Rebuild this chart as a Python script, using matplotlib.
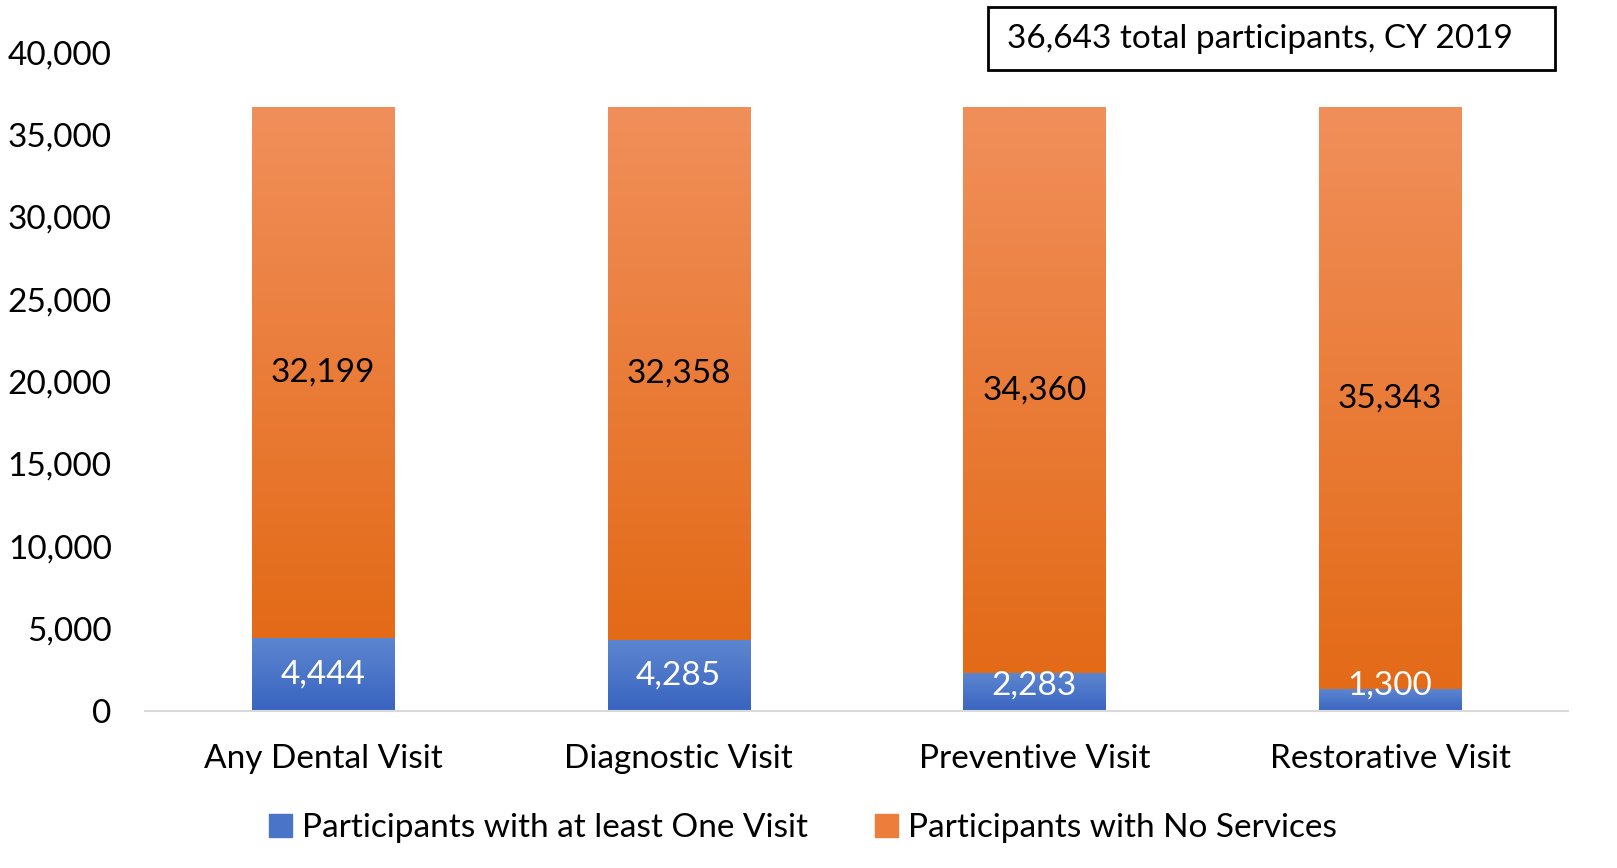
import numpy as np
import matplotlib.pyplot as plt
from matplotlib.colors import LinearSegmentedColormap
from matplotlib.patches import Patch, Rectangle

plt.rcParams['font.family'] = ['Lato', 'DejaVu Sans']

categories = ['Any Dental Visit', 'Diagnostic Visit', 'Preventive Visit', 'Restorative Visit']
at_least_one = [4444, 4285, 2283, 1300]
no_services = [32199, 32358, 34360, 35343]
series_names = ['Participants with at least One Visit', 'Participants with No Services']
box_text = '36,643 total participants, CY 2019'

blue_cmap = LinearSegmentedColormap.from_list('b', ['#3964C0', '#5D86D0'])
orange_cmap = LinearSegmentedColormap.from_list('o', ['#E36A17', '#F18F5B'])

fig = plt.figure(figsize=(16.17, 8.68), dpi=100)
ax = fig.add_axes([0.0897, 0.181, 0.88, 0.759])

x = np.arange(len(categories))
w = 0.4
grad = np.linspace(0, 1, 256).reshape(-1, 1)

def gradient_bars(xs, heights, bottoms, cmap):
    bars = ax.bar(xs, heights, w, bottom=bottoms, color='none', edgecolor='none')
    for b in bars:
        x0, y0 = b.get_x(), b.get_y()
        im = ax.imshow(grad, cmap=cmap, origin='lower', aspect='auto',
                       extent=(x0, x0 + b.get_width(), y0, y0 + b.get_height()),
                       zorder=2)
        im.set_clip_path(b)
    return bars

gradient_bars(x, at_least_one, 0, blue_cmap)
gradient_bars(x, no_services, at_least_one, orange_cmap)

fs = 24
for i in range(len(categories)):
    # small segments: label is pushed up so it stays readable
    ax.text(x[i], max(at_least_one[i] / 2, 1550), f'{at_least_one[i]:,}', ha='center',
            va='center', fontsize=fs, color='white', zorder=5)
    ax.text(x[i], at_least_one[i] + no_services[i] / 2, f'{no_services[i]:,}', ha='center',
            va='center', fontsize=fs, color='black', zorder=5)

ax.set_xlim(-0.5, 3.5)
ax.set_ylim(0, 40000)
ax.set_yticks(range(0, 40001, 5000))
ax.set_yticklabels([f'{v:,}' for v in range(0, 40001, 5000)], fontsize=fs)
ax.set_xticks(x)
ax.set_xticklabels(categories, fontsize=fs)
ax.tick_params(axis='both', length=0)
ax.tick_params(axis='y', pad=24)
ax.tick_params(axis='x', pad=24)
for s in ['top', 'right', 'left']:
    ax.spines[s].set_visible(False)
ax.spines['bottom'].set_color('#D9D9D9')
ax.spines['bottom'].set_linewidth(1.5)

handles = [Patch(color='#4A74C8'), Patch(color='#EC7D3A')]
fig.legend(handles, series_names, loc='center', bbox_to_anchor=(0.4966, 0.046), ncol=2,
           frameon=False, fontsize=fs, handlelength=0.7, handleheight=0.7,
           handletextpad=0.3, columnspacing=2.0)

fig.patches.append(Rectangle((0.611, 0.919), 0.3506, 0.073, transform=fig.transFigure,
                             facecolor='white', edgecolor='black', linewidth=2))
fig.text(0.6228, 0.9556, box_text, fontsize=fs, ha='left', va='center')

fig.savefig('out.png', dpi=100)
